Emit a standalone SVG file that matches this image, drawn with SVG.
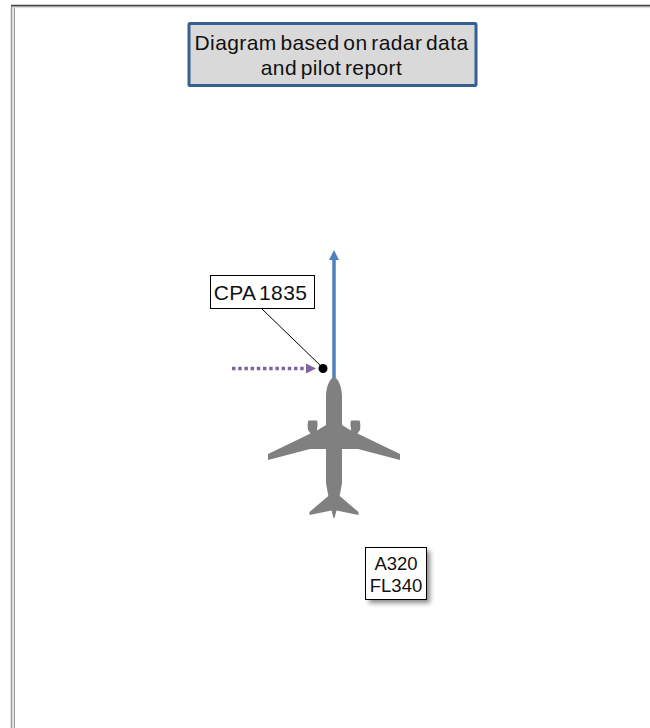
<svg xmlns="http://www.w3.org/2000/svg" width="650" height="728" viewBox="0 0 650 728">
<style>
text{font-family:"Liberation Sans",Arial,sans-serif;fill:#111;text-anchor:middle}
.t{font-size:21px;word-spacing:-2.500px;letter-spacing:.4px}
.s{font-size:18.500px}
</style>
<defs>
<filter id="sh" x="-20%" y="-20%" width="150%" height="150%"><feGaussianBlur stdDeviation="2.500"/></filter>
<marker id="blue" markerUnits="userSpaceOnUse" markerWidth="11" markerHeight="11" refX="1" refY="5.500" orient="auto"><path d="M0 0.500L10 5.500L0 10.500Z" fill="#4f81bd"/></marker>
<marker id="purple" markerUnits="userSpaceOnUse" markerWidth="11" markerHeight="11" refX="0" refY="5.500" orient="auto"><path d="M0 0.500L10 5.500L0 10.500Z" fill="#8064a2"/></marker>
</defs>
<rect width="650" height="728" fill="#fff"/>
<g id="frame" fill="none">
<path d="M11.500 728V7H650" stroke="#999" stroke-width="1.500"/>
<path d="M14.500 728V7.500" stroke="#999" stroke-width="1"/>
<path d="M13 728V7.500H650" stroke="#ddd" stroke-width="1.500"/>
<path d="M11 5.500H650" stroke="#444" stroke-width="1.500"/>
</g>
<g id="connectors" fill="none">
<path d="M334 378V259" stroke="#4f81bd" stroke-width="3.500" marker-end="url(#blue)"/>
<path d="M232 368.500H306" stroke="#8064a2" stroke-width="3.500" stroke-dasharray="3.500 2.700" marker-end="url(#purple)"/>
<path d="M262 309L323 368" stroke="#000" stroke-width="1"/>
</g>
<g id="title">
<rect x="189" y="23.500" width="287" height="62" fill="#d9d9d9" stroke="#376092" stroke-width="3" rx="1"/>
<text class="t" x="331.500" y="50">Diagram based on radar data</text>
<text class="t" x="331.500" y="75">and pilot report</text>
</g>
<g id="cpa">
<rect x="210.500" y="275.500" width="104" height="33" fill="#fff" stroke="#000" stroke-width="1"/>
<text class="t" x="260.500" y="300">CPA 1835</text>
</g>
<g id="cpa-point"><circle cx="323" cy="368.500" r="4.500" fill="#000"/></g>
<g id="aircraft">
<path fill="#808080" d="M334 377C338 378 341.500 386 342 395L342 425L351 430.500L351 428C350 426 350.500 422 351 420.500H359.500C360.500 422 360.500 428 360 430L357.500 433.500L400 454V460L358 449L342 449L342 483L339.700 496L358.500 512V515L336.500 510.500L334.500 518H333.500L331.500 510.500L309.500 515V512L328.300 496L326 483L326 449L310 449L268 460V454L310.500 433.500L308 430C307.500 428 307.500 422 308.500 420.500H317C317.500 422 318 426 317 428L317 430.500L326 425L326 395C326.500 386 330 378 334 377Z"/>
</g>
<g id="a320">
<rect x="369" y="551" width="61" height="52" fill="#888" filter="url(#sh)"/>
<rect x="365.500" y="547.500" width="61" height="52" fill="#fff" stroke="#000" stroke-width="1"/>
<text class="s" x="396" y="570">A320</text>
<text class="s" x="396" y="592">FL340</text>
</g>
</svg>
